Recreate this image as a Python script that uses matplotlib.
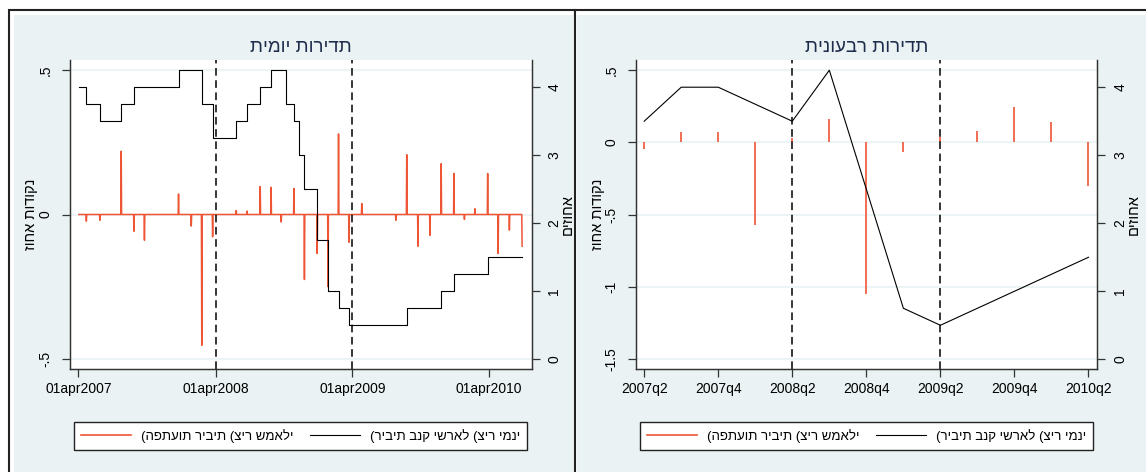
import matplotlib
matplotlib.use("Agg")
import matplotlib.pyplot as plt
from matplotlib.patches import Rectangle
from matplotlib.lines import Line2D
import pandas as pd

plt.rcParams['font.family'] = ['Liberation Sans', 'DejaVu Sans']

# ---- daily data ----
rate_dates = ["2007-04-02", "2007-04-22", "2007-05-28", "2007-07-24", "2007-08-26",
              "2007-12-24", "2008-02-24", "2008-03-24", "2008-05-26", "2008-06-24",
              "2008-07-29", "2008-08-27", "2008-10-06", "2008-10-27", "2008-11-10",
              "2008-11-24", "2008-12-28", "2009-01-26", "2009-02-23", "2009-03-23",
              "2009-08-24", "2009-11-24", "2009-12-28", "2010-03-28", "2010-06-28"]
rate_levels = [4.0, 3.75, 3.5, 3.75, 4.0, 4.25, 3.75, 3.25, 3.5, 3.75,
               4.0, 4.25, 3.75, 3.5, 3.0, 2.5, 1.75, 1.0, 0.75, 0.5,
               0.75, 1.0, 1.25, 1.5, 1.5]

spike_dates = ["2007-04-22", "2007-05-28", "2007-07-24", "2007-08-27", "2007-09-24",
               "2007-12-24", "2008-01-27", "2008-02-24", "2008-03-24", "2008-05-26",
               "2008-06-24", "2008-07-29", "2008-08-27", "2008-09-23", "2008-10-27",
               "2008-11-24", "2008-12-28", "2009-01-26", "2009-02-23", "2009-03-23",
               "2009-04-26", "2009-07-26", "2009-08-24", "2009-09-23", "2009-10-25",
               "2009-11-24", "2009-12-28", "2010-01-25", "2010-02-22", "2010-03-28",
               "2010-04-25", "2010-05-25", "2010-06-28"]
spike_values = [-0.023, -0.020, 0.219, -0.058, -0.089, 0.071, -0.040, -0.453, -0.077, 0.014,
                0.012, 0.097, 0.094, -0.026, 0.090, -0.225, -0.135, -0.250, 0.279, -0.096,
                0.038, -0.020, 0.207, -0.110, -0.072, 0.176, 0.142, -0.017, 0.020, 0.142,
                -0.135, -0.054, -0.110]

daily_ticks = ["2007-04-01", "2008-04-01", "2009-04-01", "2010-04-01"]
event_dates = ["2008-04-01", "2009-04-01"]

# ---- quarterly data ----
quarters = ["2007q2", "2007q3", "2007q4", "2008q1", "2008q2", "2008q3", "2008q4",
            "2009q1", "2009q2", "2009q3", "2009q4", "2010q1", "2010q2"]
q_rate = [3.5, 4.0, 4.0, 3.75, 3.5, 4.25, 2.5, 0.75, 0.5, 0.75, 1.0, 1.25, 1.5]
q_surprise = [-0.044, 0.074, 0.074, -0.569, 0.028, 0.164, -1.048, -0.069, 0.037,
              0.076, 0.244, 0.143, -0.300]
q_event = ["2008q2", "2009q2"]

title_daily = "תדירות יומית"
title_q = "תדירות רבעונית"
ylabel_left = "נקודות אחוז"
ylabel_right = "אחוזים"
# legend text as it is laid out in the source chart (left to right)
leg_red = "(הפתעות ריבית (ציר שמאלי"
leg_black = "(ריבית בנק ישראל (ציר ימני"

RED = "#EE5535"
BG = "#EAF2F3"
NAVY = "#1E2D4D"
W, H = 1146, 472

fig = plt.figure(figsize=(W / 100, H / 100), dpi=100)


def px_rect(x0, y0, x1, y1, **kw):
    r = Rectangle((x0 / W, 1 - y1 / H), (x1 - x0) / W, (y1 - y0) / H,
                  transform=fig.transFigure, zorder=-10, **kw)
    fig.add_artist(r)


# panel frames / backgrounds
px_rect(9, 10, 575, 480, facecolor="white", edgecolor="#222222", lw=1.5)
px_rect(14, 15, 573, 480, facecolor=BG, edgecolor="none")
px_rect(575, 10, 1150, 480, facecolor="white", edgecolor="#222222", lw=1.5)
px_rect(577, 15, 1150, 480, facecolor=BG, edgecolor="none")


def add_axes(x0, x1, y0=60, y1=369):
    return fig.add_axes([x0 / W, 1 - y1 / H, (x1 - x0) / W, (y1 - y0) / H])


def style(ax, ax2):
    for a in (ax, ax2):
        a.spines['top'].set_visible(False)
        for s in ('left', 'right', 'bottom'):
            a.spines[s].set_color("#333333")
            a.spines[s].set_linewidth(0.9)
        a.tick_params(length=6, width=0.9, color="#333333", labelsize=10)
    ax.tick_params(axis='y', labelrotation=90, pad=6.1)
    ax2.tick_params(axis='y', labelrotation=90, pad=5.5)
    for lab in ax.get_yticklabels() + ax2.get_yticklabels():
        lab.set_va('center')
    ax.set_facecolor("white")


def legend(x0, x1):
    handles = [Line2D([], [], color=RED, lw=1.2), Line2D([], [], color="black", lw=0.8)]
    fig.legend(handles, [leg_red, leg_black], ncol=2, loc='center',
               bbox_to_anchor=((x0 + x1) / 2 / W, 1 - 436 / H),
               fancybox=False, edgecolor="#222222", framealpha=1, fontsize=9.5,
               handlelength=3.8, handletextpad=0.7, columnspacing=1.3,
               borderpad=0.55, borderaxespad=0)


# ---------- left: daily ----------
ax = add_axes(69.5, 531.5)
ax2 = ax.twinx()
ax2.patch.set_visible(False)

days = pd.date_range(rate_dates[0], rate_dates[-1], freq="D")
surprise = pd.Series(0.0, index=days)
surprise[pd.to_datetime(spike_dates)] = spike_values

for yv in [0.5, 0, -0.5]:
    ax.axhline(yv, color=BG, lw=1.2, zorder=0)
ax.plot(surprise.index, surprise.values, color=RED, lw=1.1)
ax2.plot(pd.to_datetime(rate_dates), rate_levels, color="black", lw=0.8,
         drawstyle="steps-post")
for d in event_dates:
    ax2.axvline(pd.Timestamp(d), color="black", lw=1.1, ls=(0, (5, 3)))

ax.set_xlim(pd.Timestamp("2007-03-08"), pd.Timestamp("2010-07-23"))
ax.set_ylim(-0.535, 0.535)
ax2.set_ylim(-0.143, 4.40)
ax.set_xticks(pd.to_datetime(daily_ticks))
ax.set_xticklabels([pd.Timestamp(d).strftime("%d%b%Y").lower() for d in daily_ticks])
ax.set_yticks([-0.5, 0, 0.5], ["-.5", "0", ".5"])
ax2.set_yticks([0, 1, 2, 3, 4])
style(ax, ax2)
ax.set_title(title_daily[::-1], fontsize=13.5, color=NAVY, pad=6)
ax.set_ylabel(ylabel_left[::-1], fontsize=10.5)
ax.yaxis.set_label_coords(-0.068, 0.5)
ax2.set_ylabel(ylabel_right[::-1], fontsize=10.5, rotation=90)
ax2.yaxis.set_label_coords(1.064, 0.5)
legend(74.4, 526.7)

# ---------- right: quarterly ----------
bx = add_axes(635.5, 1097.2)
bx2 = bx.twinx()
bx2.patch.set_visible(False)
qpos = list(range(len(quarters)))

for yv in [0.5, 0, -0.5, -1, -1.5]:
    bx.axhline(yv, color=BG, lw=1.2, zorder=0)
bx.vlines(qpos, 0, q_surprise, color=RED, lw=1.2)
bx2.plot(qpos, q_rate, color="black", lw=0.8)
for q in q_event:
    bx2.axvline(quarters.index(q), color="black", lw=1.1, ls=(0, (5, 3)))

bx.set_xlim(-0.235, 12.235)
bx.set_ylim(-1.569, 0.571)
bx2.set_ylim(-0.143, 4.40)
bx.set_xticks(qpos[::2], quarters[::2])
bx.set_yticks([-1.5, -1, -0.5, 0, 0.5], ["-1.5", "-1", "-.5", "0", ".5"])
bx2.set_yticks([0, 1, 2, 3, 4])
style(bx, bx2)
bx.set_title(title_q[::-1], fontsize=13.5, color=NAVY, pad=6)
bx.set_ylabel(ylabel_left[::-1], fontsize=10.5)
bx.yaxis.set_label_coords(-0.065, 0.5)
bx2.set_ylabel(ylabel_right[::-1], fontsize=10.5, rotation=90)
bx2.yaxis.set_label_coords(1.064, 0.5)
legend(640.5, 1092.8)

fig.savefig("out.png", dpi=100)
